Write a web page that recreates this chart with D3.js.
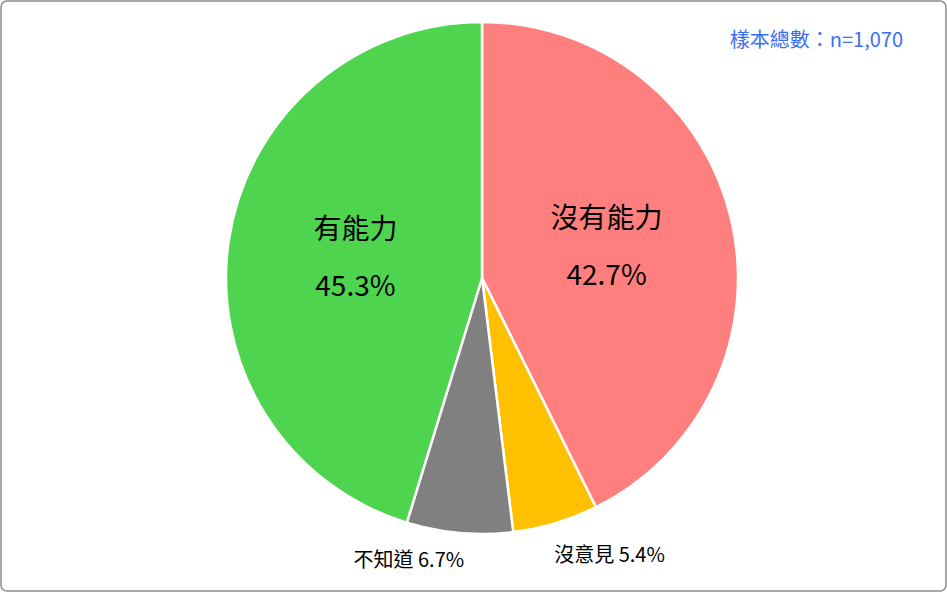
<!DOCTYPE html>
<html><head><meta charset="utf-8">
<script src="https://cdn.jsdelivr.net/npm/d3@7"></script>
<style>body{margin:0;background:#fff}svg{display:block}text{font-family:"Noto Sans CJK TC","Noto Sans",sans-serif}</style>
</head><body>
<svg id="c" width="947" height="592"></svg>
<script>
const categories = ["沒有能力","沒意見","不知道","有能力"];
const values = [42.7,5.4,6.7,45.3];
const colors = ["#FF7F7F","#FFC000","#808080","#4FD44F"];
const note = "樣本總數：n=1,070";

const svg = d3.select("#c");
svg.append("rect").attr("x",1).attr("y",1).attr("width",945).attr("height",590).attr("rx",6)
  .attr("fill","#fff").attr("stroke","#8c8c8c").attr("stroke-width",1.5);
const cx=482, cy=278, r=256;
const g = svg.append("g").attr("transform",`translate(${cx},${cy})`);
const pie = d3.pie().sort(null).value(d=>d)(values);
const arc = d3.arc().innerRadius(0).outerRadius(r);
g.selectAll("path").data(pie).join("path").attr("d",arc)
  .attr("fill",(d,i)=>colors[i]).attr("stroke","#fff").attr("stroke-width",2.5);
const inner = d3.arc().innerRadius(r*0.5).outerRadius(r*0.5);
const outer = d3.arc().innerRadius(r*1.12).outerRadius(r*1.12);
pie.forEach((d,i)=>{
  const pct = values[i].toFixed(1)+"%";
  if(values[i]>20){
    const [x,y]=inner.centroid(d);
    g.append("text").attr("x",x).attr("y",y-28).attr("text-anchor","middle").attr("font-size",28).attr("dominant-baseline","middle").text(categories[i]);
    g.append("text").attr("x",x).attr("y",y+29).attr("text-anchor","middle").attr("font-size",28).attr("dominant-baseline","middle").text(pct);
  } else {
    const [x,y]=outer.centroid(d);
    const dx = i===1 ? 45 : -48;
    const dy = i===1 ? 4 : -2;
    g.append("text").attr("x",x+dx).attr("y",y+dy).attr("text-anchor","middle").attr("font-size",20).attr("dominant-baseline","middle").text(categories[i]+" "+pct);
  }
});
svg.append("text").attr("x",903).attr("y",42).attr("text-anchor","end").attr("font-size",20)
  .attr("fill","#3B6EF5").attr("dominant-baseline","middle").text(note);
</script>
</body></html>
